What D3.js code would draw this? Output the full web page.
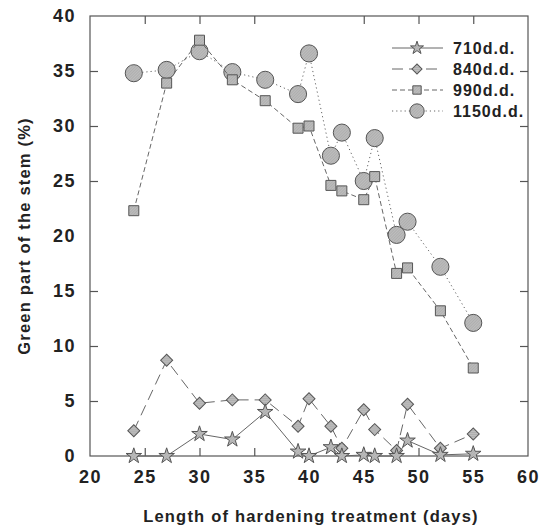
<!DOCTYPE html>
<html>
<head>
<meta charset="UTF-8">
<script src="https://d3js.org/d3.v7.min.js"></script>
<style>
  body { margin: 0; background: #fff; }
  text { font-family: "Liberation Sans", Arial, sans-serif; font-weight: bold; fill: #222; }
</style>
</head>
<body>
<div id="chart"></div>
<script>
// data
var days = [24, 27, 30, 33, 36, 39, 40, 42, 43, 45, 46, 48, 49, 52, 55];
var dd710 = [0, 0, 2.0, 1.5, 4.0, 0.4, 0, 0.8, 0, 0.1, 0, 0, 1.4, 0.1, 0.2];
var dd840 = [2.3, 8.7, 4.8, 5.1, 5.1, 2.7, 5.2, 2.7, 0.7, 4.2, 2.4, 0.5, 4.7, 0.7, 2.0];
var dd990 = [22.3, 33.9, 37.8, 34.2, 32.3, 29.8, 30.0, 24.6, 24.1, 23.3, 25.4, 16.6, 17.1, 13.2, 8.0];
var dd1150 = [34.8, 35.1, 36.8, 34.9, 34.2, 32.9, 36.6, 27.3, 29.4, 25.0, 28.9, 20.1, 21.3, 17.2, 12.1];
var seriesNames = ["710d.d.", "840d.d.", "990d.d.", "1150d.d."];
var xTicks = [20, 25, 30, 35, 40, 45, 50, 55, 60];
var yTicks = [0, 5, 10, 15, 20, 25, 30, 35, 40];

var width = 541, height = 528;
var plotL = 90, plotR = 528, plotT = 16, plotB = 456;

var svg = d3.select("#chart").append("svg")
    .attr("width", width)
    .attr("height", height);

// fine grey texture like the scanned markers
var defs = svg.append("defs");
var pat = defs.append("pattern")
    .attr("id", "hatch")
    .attr("patternUnits", "userSpaceOnUse")
    .attr("width", 2).attr("height", 2)
    .attr("patternTransform", "rotate(45)");
pat.append("rect").attr("width", 2).attr("height", 2).attr("fill", "#bdbdbd");
pat.append("line").attr("x1", 0).attr("y1", 0).attr("x2", 0).attr("y2", 2)
    .attr("stroke", "#9a9a9a").attr("stroke-width", 0.8);

var x = d3.scaleLinear().domain([20, 60]).range([plotL, plotR]);
var y = d3.scaleLinear().domain([0, 40]).range([plotB, plotT]);

// frame
svg.append("rect")
    .attr("x", plotL).attr("y", plotT)
    .attr("width", plotR - plotL).attr("height", plotB - plotT)
    .attr("fill", "none").attr("stroke", "#555").attr("stroke-width", 1.2);

// axes, ticks pointing inward
var tk = 8;
svg.append("g").attr("transform", "translate(0," + plotB + ")")
    .call(d3.axisBottom(x).tickValues(xTicks).tickSize(-tk).tickPadding(14).tickFormat(d3.format("d")))
    .call(function(g) { g.select(".domain").remove(); });
svg.append("g").attr("transform", "translate(0," + plotT + ")")
    .call(d3.axisTop(x).tickValues(xTicks.slice(1, -1)).tickSize(-tk).tickFormat(""))
    .call(function(g) { g.select(".domain").remove(); });
svg.append("g").attr("transform", "translate(" + plotL + ",0)")
    .call(d3.axisLeft(y).tickValues(yTicks).tickSize(-tk).tickPadding(14).tickFormat(d3.format("d")))
    .call(function(g) { g.select(".domain").remove(); });
svg.append("g").attr("transform", "translate(" + plotR + ",0)")
    .call(d3.axisRight(y).tickValues(yTicks.slice(1, -1)).tickSize(-tk).tickFormat(""))
    .call(function(g) { g.select(".domain").remove(); });

svg.selectAll(".tick line").attr("stroke", "#555").attr("stroke-width", 1.2);
svg.selectAll(".tick text")
    .attr("font-size", 18).attr("font-weight", "bold")
    .attr("font-family", "Liberation Sans, Arial, sans-serif")
    .attr("fill", "#222").style("letter-spacing", "1.5px");

// no tick marks at the frame corners
svg.selectAll(".tick line").filter(function(d) { return d === 20 || d === 60 || d === 0 || d === 40; })
    .attr("stroke", "none");

// axis titles
svg.append("text")
    .attr("x", (plotL + plotR) / 2 + 2).attr("y", 522)
    .attr("text-anchor", "middle").attr("font-size", 16.5)
    .style("letter-spacing", "1.2px")
    .text("Length of hardening treatment (days)");
svg.append("text")
    .attr("transform", "translate(30," + (plotT + plotB) / 2 + ") rotate(-90)")
    .attr("text-anchor", "middle").attr("font-size", 16.5)
    .style("letter-spacing", "1.2px")
    .text("Green part of the stem (%)");

var styles = [
    { vals: dd710, dash: null, shape: d3.symbolStar, size: 75, rot: 0 },
    { vals: dd840, dash: "11,6", shape: d3.symbolSquare, size: 72, rot: 45 },
    { vals: dd990, dash: "5,3", shape: d3.symbolSquare, size: 100, rot: 0 },
    { vals: dd1150, dash: "1.2,3", shape: d3.symbolCircle, size: 230, rot: 0 }
];

var line = d3.line()
    .x(function(d) { return x(d[0]); })
    .y(function(d) { return y(d[1]); });

// big markers first so the small ones stay on top
[3, 2, 1, 0].forEach(function(i) {
    var s = styles[i];
    var pts = days.map(function(d, j) { return [d, s.vals[j]]; });
    svg.append("path")
        .datum(pts)
        .attr("d", line)
        .attr("fill", "none")
        .attr("stroke", "#666")
        .attr("stroke-width", 1)
        .attr("stroke-dasharray", s.dash);
    svg.append("g").selectAll("path")
        .data(pts)
        .enter().append("path")
        .attr("transform", function(d) {
            return "translate(" + x(d[0]) + "," + y(d[1]) + ") rotate(" + s.rot + ")";
        })
        .attr("d", d3.symbol().type(s.shape).size(s.size))
        .attr("fill", "url(#hatch)")
        .attr("stroke", "#555")
        .attr("stroke-width", 1);
});

// legend
var legend = svg.append("g");
seriesNames.forEach(function(name, i) {
    var s = styles[i];
    var ly = 48 + i * 21;
    legend.append("line")
        .attr("x1", 392).attr("x2", 443).attr("y1", ly).attr("y2", ly)
        .attr("stroke", "#666").attr("stroke-width", 1)
        .attr("stroke-dasharray", s.dash);
    legend.append("path")
        .attr("transform", "translate(417," + ly + ") rotate(" + s.rot + ")")
        .attr("d", d3.symbol().type(s.shape).size(s.size * 0.7))
        .attr("fill", "url(#hatch)")
        .attr("stroke", "#555");
    legend.append("text")
        .attr("x", 453).attr("y", ly + 6)
        .attr("font-size", 16)
        .style("letter-spacing", "1px")
        .text(name);
});
</script>
</body>
</html>
